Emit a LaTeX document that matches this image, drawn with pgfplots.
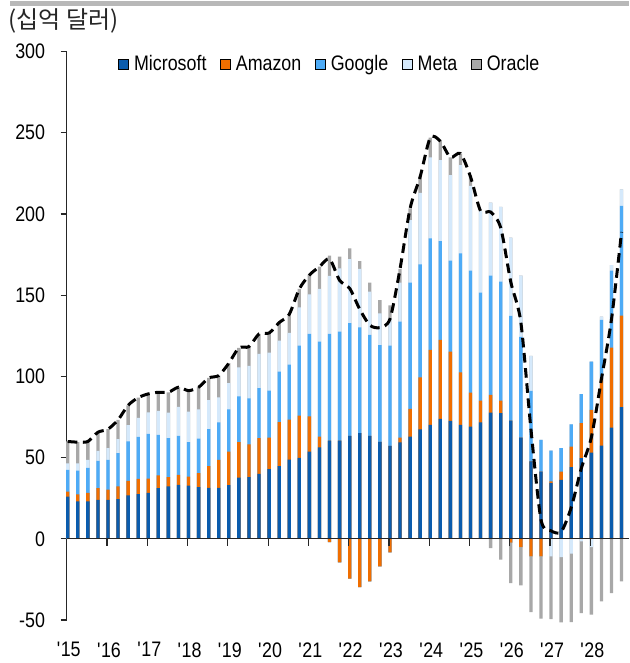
\documentclass[border=0pt]{standalone}
\usepackage{fontspec}
\setmainfont{Liberation Sans}[FakeStretch=0.85]
\newfontfamily\krfont{Noto Sans CJK KR}
\usepackage{pgfplots}
\usepackage{pgfplotstable}
\pgfplotsset{compat=1.18}
\definecolor{cms}{HTML}{0B5CAD}
\definecolor{camz}{HTML}{F06E00}
\definecolor{cgoo}{HTML}{4EABF6}
\definecolor{cmeta}{HTML}{D5E9FB}
\definecolor{corc}{HTML}{A8A8A8}
\pgfplotstableread{
i M A G Me O
0 26.0 3.1 13.3 4.1 13.4
1 23.0 4.3 14.7 4.5 13.0
2 23.0 5.3 15.4 4.9 11.3
3 24.0 7.2 16.8 6.1 11.5
4 24.0 6.3 18.3 7.2 11.7
5 24.4 7.8 20.5 8.6 11.9
6 26.7 9.0 24.2 10.0 12.3
7 27.5 9.4 25.8 11.7 12.5
8 28.3 8.8 27.5 13.3 11.3
9 31.2 7.8 25.0 14.7 11.5
10 32.2 5.7 24.0 15.8 12.5
11 33.2 6.2 24.0 17.8 12.1
12 32.8 5.5 21.2 18.8 12.9
13 31.8 8.6 21.3 17.9 13.7
14 31.4 13.3 22.8 17.8 13.7
15 31.4 17.2 23.0 15.5 13.4
16 33.0 20.7 25.9 16.2 12.3
17 37.7 21.8 28.1 18.0 11.9
18 37.9 20.3 28.3 19.9 11.9
19 40.0 21.9 30.8 21.1 12.3
20 42.9 19.4 28.9 23.4 12.1
21 44.7 27.1 31.1 19.1 11.1
22 48.8 24.6 33.8 19.5 11.5
23 49.8 26.1 43.0 23.6 11.3
24 53.7 21.6 50.8 24.4 11.9
25 56.2 6.7 58.5 32.4 13.7
26 60.5 -2.0 65.6 35.7 12.5
27 60.5 -14.6 67.0 39.0 7.2
28 63.4 -24.6 69.3 39.5 6.6
29 65.0 -29.7 65.2 35.9 4.9
30 63.4 -26.2 62.1 26.6 5.6
31 59.7 -17.0 59.6 19.5 8.2
32 57.2 -8.4 61.7 17.0 7.8
33 59.3 3.0 71.4 24.0 8.4
34 62.9 17.1 77.7 38.5 7.2
35 67.3 32.1 69.6 44.0 9.9
36 70.1 46.2 68.7 49.8 12.1
37 73.8 48.6 60.9 49.8 11.7
38 72.6 42.6 56.0 52.7 10.9
39 70.1 32.4 73.2 54.4 7.1
40 69.1 20.9 75.1 52.2 5.6
41 71.6 13.5 66.4 50.3 0
42 77.7 10.9 73.4 44.9 -5.7
43 77.3 7.8 73.2 46.1 -12.9
44 72.8 -2.3 64.4 48.2 -25.0
45 62.3 -5.1 62.0 37.7 -23.6
46 47.6 -10.9 43.4 21.6 -34.2
47 41.4 -10.9 19.5 0 -38.3
48 34.2 1.1 19.0 -10.9 -38.5
49 36.3 5.1 14.4 -11.3 -40.2
50 44.1 12.7 13.7 -9.2 -42.1
51 49.6 21.6 17.8 -1.6 -44.1
52 53.1 26.3 29.7 -5.1 -41.6
53 57.4 41.4 35.9 2.1 -38.5
54 68.5 49.2 47.4 3.4 -33.4
55 81.0 56.4 67.6 10.1 -26.2
}\data

\begin{document}
\begin{tikzpicture}
\begin{axis}[
  name=ax,
  scale only axis, width=281.15pt, height=284.25pt,
  xmin=-0.1, xmax=55.74, ymin=-50, ymax=300,
  clip=false,
  axis lines*=left,
  x axis line style={draw=none},
  y axis line style={black!85, line width=0.6pt},
  ytick={-50,0,50,100,150,200,250,300},
  xtick={-0.1,3.9,7.9,11.9,15.9,19.9,23.9,27.9,31.9,35.9,39.9,43.9,47.9,51.9},
  xticklabels={{\textquotesingle15},{\textquotesingle16},{\textquotesingle17},{\textquotesingle18},{\textquotesingle19},{\textquotesingle20},{\textquotesingle21},{\textquotesingle22},{\textquotesingle23},{\textquotesingle24},{\textquotesingle25},{\textquotesingle26},{\textquotesingle27},{\textquotesingle28}},
  tick align=outside,
  major tick length=3pt,
  ytick style={black!85, line width=0.6pt},
  xtick style={draw=none},
  /pgf/number format/assume math mode=true,
  tick label style={font=\fontsize{10.5}{12}\selectfont, black},
  yticklabel style={xshift=-4.3pt},
  xticklabel style={yshift=-4.7pt, xshift=1pt},
  legend image code/.code={\fill[#1] (0pt,-2.5pt) rectangle (5pt,2.5pt);},
  legend columns=-1,
  legend style={at={(0.091,0.977)}, anchor=west, draw=none, fill=none, inner sep=0pt,
    font=\fontsize{10.5}{12}\selectfont,
    nodes={inner xsep=0pt, inner ysep=1pt},
    /tikz/every odd column/.append style={column sep=2.5pt},
    /tikz/every even column/.append style={column sep=6.8pt}},
]
% positive stacks (overpainted, tallest first)
\addplot[ybar, bar width=0.33, bar shift=0pt, fill=corc, draw=none, forget plot]
  table[x=i, y expr={max(\thisrow{M},0)+max(\thisrow{A},0)+max(\thisrow{G},0)+max(\thisrow{Me},0)+max(\thisrow{O},0)}] {\data};
\addplot[ybar, bar width=0.33, bar shift=0pt, fill=cmeta, draw=none, forget plot]
  table[x=i, y expr={max(\thisrow{M},0)+max(\thisrow{A},0)+max(\thisrow{G},0)+max(\thisrow{Me},0)}] {\data};
\addplot[ybar, bar width=0.33, bar shift=0pt, fill=cgoo, draw=none, forget plot]
  table[x=i, y expr={max(\thisrow{M},0)+max(\thisrow{A},0)+max(\thisrow{G},0)}] {\data};
\addplot[ybar, bar width=0.33, bar shift=0pt, fill=camz, draw=none, forget plot]
  table[x=i, y expr={max(\thisrow{M},0)+max(\thisrow{A},0)}] {\data};
\addplot[ybar, bar width=0.33, bar shift=0pt, fill=cms, draw=none, forget plot]
  table[x=i, y expr={max(\thisrow{M},0)}] {\data};
% negative stacks
\addplot[ybar, bar width=0.33, bar shift=0pt, fill=corc, draw=none, forget plot]
  table[x=i, y expr={min(\thisrow{M},0)+min(\thisrow{A},0)+min(\thisrow{G},0)+min(\thisrow{Me},0)+min(\thisrow{O},0)}] {\data};
\addplot[ybar, bar width=0.33, bar shift=0pt, fill=cmeta, draw=none, forget plot]
  table[x=i, y expr={min(\thisrow{M},0)+min(\thisrow{A},0)+min(\thisrow{G},0)+min(\thisrow{Me},0)}] {\data};
\addplot[ybar, bar width=0.33, bar shift=0pt, fill=cgoo, draw=none, forget plot]
  table[x=i, y expr={min(\thisrow{M},0)+min(\thisrow{A},0)+min(\thisrow{G},0)}] {\data};
\addplot[ybar, bar width=0.33, bar shift=0pt, fill=camz, draw=none, forget plot]
  table[x=i, y expr={min(\thisrow{M},0)+min(\thisrow{A},0)}] {\data};
% net total line
\addplot[black, line width=1.5pt, dash pattern=on 4.8pt off 2.8pt, smooth, tension=0.45, forget plot]
  table[x=i, y expr={\thisrow{M}+\thisrow{A}+\thisrow{G}+\thisrow{Me}+\thisrow{O}}] {\data};
% zero axis with year ticks
\draw[black!85, line width=0.6pt] (axis cs:-0.1,0) -- (axis cs:55.74,0);
\pgfplotsinvokeforeach{-0.1,3.9,7.9,11.9,15.9,19.9,23.9,27.9,31.9,35.9,39.9,43.9,47.9,51.9}{
  \draw[black!85, line width=0.6pt] (axis cs:#1,0) -- ([yshift=-3.5pt]axis cs:#1,0);
}
\addlegendimage{fill=cms}\addlegendentry{Microsoft}
\addlegendimage{fill=camz}\addlegendentry{Amazon}
\addlegendimage{fill=cgoo}\addlegendentry{Google}
\addlegendimage{fill=cmeta}\addlegendentry{Meta}
\addlegendimage{fill=corc}\addlegendentry{Oracle}
% header
\node[anchor=west, inner sep=0pt, font=\krfont\fontsize{12}{14}\selectfont, black!85] at (rel axis cs:-0.104,1.053) {(십억 달러)};
\draw[color=black!28, line width=2.6pt] (rel axis cs:-0.1008,1.0844) -- (rel axis cs:1,1.0844);
\end{axis}
\pgfresetboundingbox
\path[use as bounding box] ([xshift=-33.35pt,yshift=-21.5pt]ax.south west) rectangle ([yshift=25.75pt]ax.north east);
\end{tikzpicture}
\end{document}
